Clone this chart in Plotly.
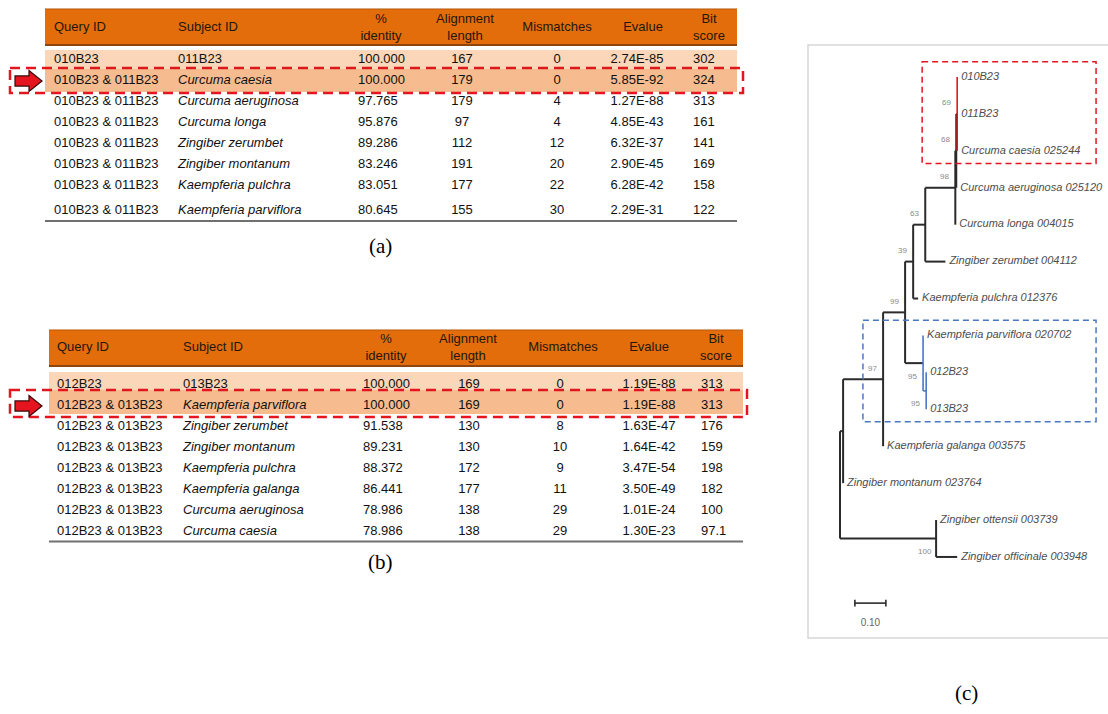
import plotly.graph_objects as go

W, H = 1108, 714

# ---------------- DATA: BLAST table (a) ----------------
HEADERS = ["Query ID", "Subject ID", "%<br>identity", "Alignment<br>length",
           "Mismatches", "Evalue", "Bit<br>score"]

A_QUERY = ["010B23"] + ["010B23 & 011B23"] * 7
A_SUBJECT = ["011B23", "Curcuma caesia", "Curcuma aeruginosa", "Curcuma longa",
             "Zingiber zerumbet", "Zingiber montanum", "Kaempferia pulchra",
             "Kaempferia parviflora"]
A_IDENTITY = [100.000, 100.000, 97.765, 95.876, 89.286, 83.246, 83.051, 80.645]
A_ALIGN = [167, 179, 179, 97, 112, 191, 177, 155]
A_MISMATCH = [0, 0, 4, 4, 12, 20, 22, 30]
A_EVALUE = [2.74e-85, 5.85e-92, 1.27e-88, 4.85e-43, 6.32e-37, 2.90e-45, 6.28e-42, 2.29e-31]
A_BITSCORE = [302, 324, 313, 161, 141, 169, 158, 122]

# ---------------- DATA: BLAST table (b) ----------------
B_QUERY = ["012B23"] + ["012B23 & 013B23"] * 7
B_SUBJECT = ["013B23", "Kaempferia parviflora", "Zingiber zerumbet", "Zingiber montanum",
             "Kaempferia pulchra", "Kaempferia galanga", "Curcuma aeruginosa",
             "Curcuma caesia"]
B_IDENTITY = [100.000, 100.000, 91.538, 89.231, 88.372, 86.441, 78.986, 78.986]
B_ALIGN = [169, 169, 130, 130, 172, 177, 138, 138]
B_MISMATCH = [0, 0, 8, 10, 9, 11, 29, 29]
B_EVALUE = [1.19e-88, 1.19e-88, 1.63e-47, 1.64e-42, 3.47e-54, 3.50e-49, 1.01e-24, 1.30e-23]
B_BITSCORE = [313, 313, 176, 159, 198, 182, 100, 97.1]

HIGHLIGHT_ROW = 1  # row marked with arrow + dashed box in both tables

# ---------------- DATA: phylogenetic tree (c) ----------------
NEWICK = ("(((((((((010B23:0,011B23:0,Curcuma caesia 025244:0)69:0.003,"
          "Curcuma aeruginosa 025120:0)68:0.003,Curcuma longa 004015:0)98:0.097,"
          "Zingiber zerumbet 004112:0.065)63:0.039,Kaempferia pulchra 012376:0.016)39:0.026,"
          "(Kaempferia parviflora 020702:0,(012B23:0,013B23:0)95:0.010)95:0.058)99:0.071,"
          "Kaempferia galanga 003575:0)97:0.129,Zingiber montanum 023764:0):0.010,"
          "(Zingiber ottensii 003739:0,Zingiber officinale 003948:0.068)100:0.310);")
RED_CLADE = ["010B23", "011B23", "Curcuma caesia 025244"]
BLUE_CLADE = ["Kaempferia parviflora 020702", "012B23", "013B23"]
SCALE_BAR = 0.10
CAPTIONS = ["(a)", "(b)", "(c)"]

# ---------------- STYLE ----------------
FONT = "Liberation Sans, Arial, sans-serif"
SERIF = "Liberation Serif, Times New Roman, serif"
ORANGE = "#E36C0B"
ORANGE_EDGE = "#8F450C"
PEACH_LIGHT = "#FBD6B8"
PEACH_DARK = "#F6BB8E"
TEXT = "#111111"
HEAD_TEXT = "#24180e"
RED = "#E4151E"
BLUE = "#4A78C2"
TREE_BLACK = "#2b2b2b"
ROW_PX = 21.0

TABLES = [
    dict(axis="2", row0_py=60,
         cols=[A_QUERY, A_SUBJECT, A_IDENTITY, A_ALIGN, A_MISMATCH, A_EVALUE, A_BITSCORE],
         band_x=(45, 737), box_x=(10, 743),
         head=(-2.43, -0.714), head_y=-1.52,
         bands=[(-0.476, 0.43, PEACH_LIGHT), (0.43, 1.52, PEACH_DARK)],
         box=(-0.62, 0.57), rule=7.67, extra=[0, 0, 0, 0, 0, 0, 0, 0.19],
         head_cols=[("l", 54), ("l", 178), ("c", 381), ("c", 465), ("c", 557), ("c", 643), ("c", 709)],
         body_cols=[("l", 54), ("l", 178), ("l", 358), ("c", 462), ("c", 557), ("c", 637), ("l", 693)]),
    dict(axis="3", row0_py=385,
         cols=[B_QUERY, B_SUBJECT, B_IDENTITY, B_ALIGN, B_MISMATCH, B_EVALUE, B_BITSCORE],
         band_x=(49, 743), box_x=(10, 747),
         head=(-2.62, -0.905), head_y=-1.76,
         bands=[(-0.62, 0.24, PEACH_LIGHT), (0.24, 1.38, PEACH_DARK)],
         box=(-0.76, 0.52), rule=7.45, extra=[0] * 8,
         head_cols=[("l", 57), ("l", 183), ("c", 386), ("c", 468), ("c", 563), ("c", 649), ("c", 716)],
         body_cols=[("l", 57), ("l", 183), ("l", 363), ("c", 469), ("c", 560), ("c", 649), ("l", 701)]),
]

FORMATS = [
    lambda v: v,
    lambda v: f"<i>{v}</i>" if " " in v else v,
    lambda v: f"{v:.3f}",
    lambda v: str(v),
    lambda v: str(v),
    lambda v: f"{v:.2E}",
    lambda v: f"{v:g}",
]

# tree geometry (pixels per branch-length unit, root position, tip spacing)
PX_PER_UNIT = 310.0
ROOT_PX = 840.0
TIP0_PY = 77.0
TIP_PITCH = 36.92
PANEL = (808, 45, 1112, 638)

fig = go.Figure()

# ---------------- tables ----------------
for t in TABLES:
    xa, ya = "x" + t["axis"], "y" + t["axis"]
    n = len(t["cols"][0])
    ys = [i + t["extra"][i] for i in range(n)]
    hi = HIGHLIGHT_ROW
    ref = dict(xref=xa, yref=ya)
    # header band
    fig.add_shape(type="rect", x0=t["band_x"][0], x1=t["band_x"][1], y0=t["head"][0], y1=t["head"][1],
                  fillcolor=ORANGE, line_width=0, layer="below", **ref)
    fig.add_shape(type="line", x0=t["band_x"][0], x1=t["band_x"][1], y0=t["head"][0], y1=t["head"][0],
                  line=dict(color="#b85a10", width=1), layer="below", **ref)
    fig.add_shape(type="line", x0=t["band_x"][0], x1=t["band_x"][1], y0=t["head"][1], y1=t["head"][1],
                  line=dict(color=ORANGE_EDGE, width=2), layer="below", **ref)
    # shaded rows
    for y0, y1, col in t["bands"]:
        fig.add_shape(type="rect", x0=t["band_x"][0], x1=t["band_x"][1], y0=y0, y1=y1,
                      fillcolor=col, line_width=0, layer="below", **ref)
    # bottom rule
    fig.add_shape(type="line", x0=t["band_x"][0], x1=t["band_x"][1], y0=t["rule"], y1=t["rule"],
                  line=dict(color="#707070", width=2), **ref)
    # header text
    for (al, px), htxt in zip(t["head_cols"], HEADERS):
        fig.add_trace(go.Scatter(
            x=[px], y=[t["head_y"]], text=[htxt], mode="text",
            textposition="middle right" if al == "l" else "middle center",
            textfont=dict(family=FONT, size=13, color=HEAD_TEXT),
            xaxis=xa, yaxis=ya, hoverinfo="skip", showlegend=False))
    # body text
    for (al, px), col, fmt in zip(t["body_cols"], t["cols"], FORMATS):
        fig.add_trace(go.Scatter(
            x=[px] * n, y=ys, text=[fmt(v) for v in col], mode="text",
            textposition="middle right" if al == "l" else "middle center",
            textfont=dict(family=FONT, size=13, color=TEXT),
            xaxis=xa, yaxis=ya, hoverinfo="skip", showlegend=False))
    # dashed highlight box
    fig.add_shape(type="rect", x0=t["box_x"][0], x1=t["box_x"][1],
                  y0=hi + t["box"][0], y1=hi + t["box"][1],
                  line=dict(color=RED, width=2.5, dash="10px,6px"), fillcolor="rgba(0,0,0,0)",
                  layer="above", **ref)
    # arrow
    sh, hh = 0.24, 0.5
    path = (f"M 15,{hi - sh} L 29,{hi - sh} L 29,{hi - hh} L 42,{hi} "
            f"L 29,{hi + hh} L 29,{hi + sh} L 15,{hi + sh} Z")
    fig.add_shape(type="path", path=path, fillcolor=RED, line=dict(color="#3a0808", width=1.2),
                  layer="above", **ref)
    fig.update_layout(**{
        "xaxis" + t["axis"]: dict(domain=[0, 1], range=[0, W], visible=False, anchor=ya,
                                  fixedrange=True),
        "yaxis" + t["axis"]: dict(domain=[0, 1],
                                  range=[(H - t["row0_py"]) / ROW_PX, -t["row0_py"] / ROW_PX],
                                  visible=False, anchor=xa, fixedrange=True),
    })


# ---------------- tree ----------------
def parse_newick(s):
    s = s.strip().rstrip(";")
    pos = 0

    def node():
        nonlocal pos
        nd = {"children": [], "name": "", "length": 0.0}
        if s[pos] == "(":
            pos += 1
            while True:
                nd["children"].append(node())
                if s[pos] == ",":
                    pos += 1
                    continue
                if s[pos] == ")":
                    pos += 1
                    break
        start = pos
        while pos < len(s) and s[pos] not in ",():":
            pos += 1
        nd["name"] = s[start:pos].strip()
        if pos < len(s) and s[pos] == ":":
            pos += 1
            start = pos
            while pos < len(s) and s[pos] not in ",()":
                pos += 1
            nd["length"] = float(s[start:pos])
        return nd

    return node()


root = parse_newick(NEWICK)
tips = []


def layout_tree(nd, x):
    nd["x"] = x
    if not nd["children"]:
        nd["y"] = len(tips)
        nd["tips"] = [nd["name"]]
        tips.append(nd)
        return
    for c in nd["children"]:
        layout_tree(c, x + c["length"])
    nd["y"] = (nd["children"][0]["y"] + nd["children"][-1]["y"]) / 2
    nd["tips"] = [n for c in nd["children"] for n in c["tips"]]


layout_tree(root, 0.0)

segs = {TREE_BLACK: ([], []), RED: ([], []), BLUE: ([], [])}
internal = []


def clade_color(nd):
    if all(n in RED_CLADE for n in nd["tips"]):
        return RED
    if all(n in BLUE_CLADE for n in nd["tips"]):
        return BLUE
    return TREE_BLACK


def collect(nd):
    if not nd["children"]:
        return
    internal.append(nd)
    col = clade_color(nd)
    xs, ys = segs[col]
    xs += [nd["x"], nd["x"], None]
    ys += [nd["children"][0]["y"], nd["children"][-1]["y"], None]
    for c in nd["children"]:
        if c["length"] > 0:
            cx, cy = segs[col]
            cx += [nd["x"], c["x"], None]
            cy += [c["y"], c["y"], None]
        collect(c)


collect(root)

for col, w in [(TREE_BLACK, 2.0), (RED, 1.6), (BLUE, 1.6)]:
    xs, ys = segs[col]
    fig.add_trace(go.Scatter(x=xs, y=ys, mode="lines", line=dict(color=col, width=w),
                             hoverinfo="skip", showlegend=False, xaxis="x", yaxis="y"))

LABEL_GAP = 4.0 / PX_PER_UNIT
fig.add_trace(go.Scatter(
    x=[t["x"] + LABEL_GAP for t in tips], y=[t["y"] for t in tips],
    text=[t["name"] for t in tips], mode="text", textposition="middle right",
    textfont=dict(family=FONT, size=11, color="#4d4d4d", style="italic"),
    cliponaxis=False, hoverinfo="skip", showlegend=False, xaxis="x", yaxis="y"))

BOOT_BELOW = {"Kaempferia parviflora 020702", "012B23", "Zingiber ottensii 003739"}
for nd in internal:
    if not nd["name"]:
        continue
    below = nd["tips"][0] in BOOT_BELOW
    fig.add_annotation(x=nd["x"], y=nd["y"], xref="x", yref="y", text=nd["name"],
                       showarrow=False, xanchor="center", yanchor="middle",
                       xshift=-11, yshift=-13 if below else 11,
                       font=dict(family=FONT, size=8, color="#8a8a8a"))

# scale bar
sb_x0 = 0.048
sb_y = 14.25
cap = 0.09
fig.add_trace(go.Scatter(
    x=[sb_x0, sb_x0 + SCALE_BAR, None, sb_x0, sb_x0, None, sb_x0 + SCALE_BAR, sb_x0 + SCALE_BAR],
    y=[sb_y, sb_y, None, sb_y - cap, sb_y + cap, None, sb_y - cap, sb_y + cap],
    mode="lines", line=dict(color=TREE_BLACK, width=1.6),
    hoverinfo="skip", showlegend=False, xaxis="x", yaxis="y"))
fig.add_trace(go.Scatter(
    x=[sb_x0 + SCALE_BAR / 2], y=[sb_y + 0.55], text=[f"{SCALE_BAR:.2f}"], mode="text",
    textposition="middle center", textfont=dict(family=FONT, size=10, color="#666666"),
    hoverinfo="skip", showlegend=False, xaxis="x", yaxis="y"))

# clade boxes
for clade, col in [(RED_CLADE, RED), (BLUE_CLADE, BLUE)]:
    idx = [t["y"] for t in tips if t["name"] in clade]
    x0 = 0.265 if col == RED else 0.074
    fig.add_shape(type="rect", xref="x", yref="y", x0=x0, x1=0.826,
                  y0=min(idx) - 0.41, y1=max(idx) + 0.34,
                  line=dict(color=col, width=1.5, dash="6px,4px"), fillcolor="rgba(0,0,0,0)")

# panel border
fig.add_shape(type="rect", xref="paper", yref="paper",
              x0=PANEL[0] / W, x1=PANEL[2] / W, y0=1 - PANEL[3] / H, y1=1 - PANEL[1] / H,
              line=dict(color="#d6d6d6", width=1.5), fillcolor="rgba(0,0,0,0)", layer="below")

fig.update_layout(
    xaxis=dict(domain=[PANEL[0] / W, 1.0],
               range=[(PANEL[0] - ROOT_PX) / PX_PER_UNIT, (W - ROOT_PX) / PX_PER_UNIT],
               visible=False, anchor="y", fixedrange=True),
    yaxis=dict(domain=[1 - 637 / H, 1 - 45 / H],
               range=[(637 - TIP0_PY) / TIP_PITCH, (45 - TIP0_PY) / TIP_PITCH],
               visible=False, anchor="x", fixedrange=True),
)

# captions
for cap_txt, (px, py) in zip(CAPTIONS, [(380, 246), (380, 562), (966, 693)]):
    fig.add_annotation(x=px / W, y=1 - py / H, xref="paper", yref="paper", text=cap_txt,
                       showarrow=False, xanchor="center", yanchor="middle",
                       font=dict(family=SERIF, size=21, color="#000000"))

fig.update_layout(
    width=W, height=H, autosize=False,
    margin=dict(l=0, r=0, t=0, b=0, pad=0),
    paper_bgcolor="white", plot_bgcolor="rgba(0,0,0,0)",
    showlegend=False, hovermode=False,
)

fig.write_html("out.html", config={"displayModeBar": False, "staticPlot": True},
               post_script="document.body.style.margin='0px';"
                           "document.body.style.overflow='hidden';")
